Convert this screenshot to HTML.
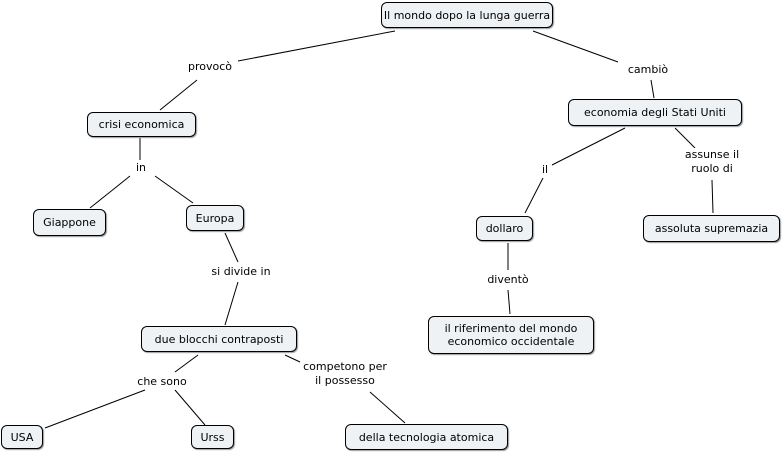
<!DOCTYPE html>
<html><head><meta charset="utf-8"><style>
body{margin:0;width:784px;height:453px;background:#fff;position:relative;overflow:hidden;font-family:"DejaVu Sans","Liberation Sans",sans-serif;font-size:11px;color:#000}
.n{position:absolute;box-sizing:border-box;background:#eef2f5;border:1px solid #000;border-radius:6px;display:flex;align-items:center;justify-content:center;text-align:center;line-height:13px;box-shadow:1px 1px 1px #999}
.l{position:absolute;background:#fff;text-align:center;line-height:14px;transform:translate(-50%,-50%);white-space:nowrap;padding:0 2px}
svg{position:absolute;left:0;top:0}
</style></head><body>
<svg width="784" height="453"><g stroke="#000" stroke-width="1">
<line x1="395" y1="31" x2="238" y2="61"/><line x1="197" y1="80" x2="160" y2="110"/>
<line x1="533" y1="31" x2="618" y2="62"/><line x1="651" y1="80" x2="654" y2="98"/>
<line x1="140" y1="138" x2="140" y2="160"/><line x1="130" y1="176" x2="90" y2="208"/><line x1="155" y1="176" x2="193" y2="203"/>
<line x1="225" y1="233" x2="238" y2="262"/><line x1="238" y1="282" x2="225" y2="325"/>
<line x1="198" y1="355" x2="175" y2="372"/><line x1="145" y1="390" x2="45" y2="428"/><line x1="175" y1="390" x2="205" y2="425"/>
<line x1="285" y1="355" x2="300" y2="362"/><line x1="370" y1="392" x2="405" y2="423"/>
<line x1="625" y1="128" x2="552" y2="165"/><line x1="543" y1="178" x2="525" y2="213"/>
<line x1="675" y1="128" x2="695" y2="148"/><line x1="712" y1="180" x2="713" y2="213"/>
<line x1="508" y1="243" x2="508" y2="270"/><line x1="508" y1="290" x2="510" y2="314"/>
</g></svg>
<div class="n" style="left:381px;top:2px;width:172px;height:26px">Il mondo dopo la lunga guerra</div>
<div class="n" style="left:87px;top:112px;width:109px;height:25px">crisi economica</div>
<div class="n" style="left:33px;top:209px;width:73px;height:27px">Giappone</div>
<div class="n" style="left:186px;top:205px;width:58px;height:26px">Europa</div>
<div class="n" style="left:141px;top:326px;width:156px;height:26px">due blocchi contraposti</div>
<div class="n" style="left:1px;top:425px;width:42px;height:24px">USA</div>
<div class="n" style="left:191px;top:425px;width:43px;height:24px">Urss</div>
<div class="n" style="left:345px;top:424px;width:163px;height:26px">della tecnologia atomica</div>
<div class="n" style="left:568px;top:99px;width:174px;height:27px">economia degli Stati Uniti</div>
<div class="n" style="left:476px;top:216px;width:57px;height:25px">dollaro</div>
<div class="n" style="left:643px;top:215px;width:137px;height:27px">assoluta supremazia</div>
<div class="n" style="left:428px;top:316px;width:166px;height:38px">il riferimento del mondo<br>economico occidentale</div>
<div class="l" style="left:210px;top:67px">provocò</div>
<div class="l" style="left:648px;top:70px">cambiò</div>
<div class="l" style="left:141px;top:168px">in</div>
<div class="l" style="left:241px;top:272px">si divide in</div>
<div class="l" style="left:162px;top:382px">che sono</div>
<div class="l" style="left:345px;top:374px">competono per<br>il possesso</div>
<div class="l" style="left:545px;top:170px">il</div>
<div class="l" style="left:712px;top:162px">assunse il<br>ruolo di</div>
<div class="l" style="left:508px;top:280px">diventò</div>
</body></html>
